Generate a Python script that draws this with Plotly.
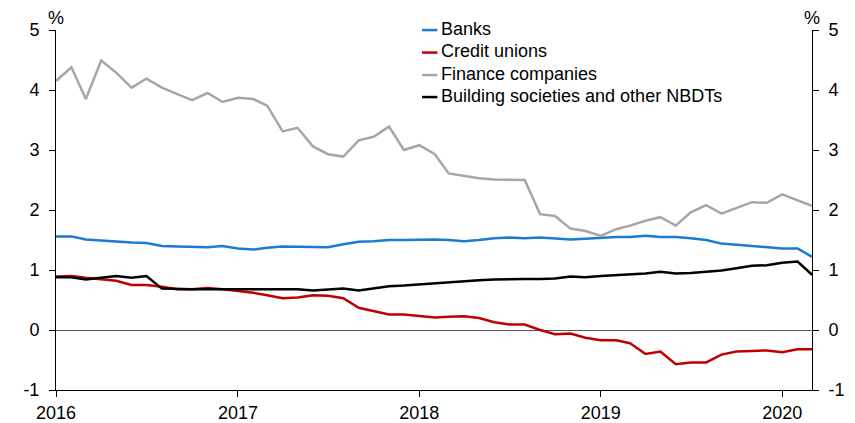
import plotly.graph_objects as go
import pandas as pd

months = pd.date_range("2016-01-01", "2020-03-01", freq="MS")

banks = [1.56, 1.56, 1.51, 1.49, 1.47, 1.46, 1.45, 1.40, 1.39, 1.39, 1.38, 1.40,
         1.36, 1.34, 1.37, 1.39, 1.39, 1.38, 1.38, 1.43, 1.47, 1.48, 1.50, 1.50,
         1.51, 1.51, 1.50, 1.48, 1.50, 1.53, 1.54, 1.53, 1.54, 1.53, 1.51, 1.52,
         1.54, 1.55, 1.55, 1.57, 1.55, 1.55, 1.53, 1.50, 1.44, 1.42, 1.41, 1.39,
         1.36, 1.36, 1.22]
credit_unions = [0.89, 0.90, 0.87, 0.85, 0.82, 0.75, 0.75, 0.72, 0.68, 0.68, 0.70, 0.68,
                 0.65, 0.62, 0.58, 0.53, 0.54, 0.58, 0.57, 0.53, 0.37, 0.32, 0.26, 0.26,
                 0.24, 0.21, 0.22, 0.23, 0.20, 0.13, 0.09, 0.09, 0.00, -0.07, -0.06, -0.13,
                 -0.17, -0.17, -0.22, -0.40, -0.36, -0.57, -0.54, -0.54, -0.41, -0.36, -0.35, -0.34,
                 -0.37, -0.32, -0.32]
finance_cos = [4.15, 4.38, 3.85, 4.49, 4.29, 4.04, 4.19, 4.04, 3.93, 3.83, 3.95, 3.80,
               3.87, 3.85, 3.74, 3.31, 3.37, 3.06, 2.93, 2.89, 3.16, 3.22, 3.39, 3.00,
               3.08, 2.93, 2.61, 2.57, 2.53, 2.51, 2.50, 2.50, 1.93, 1.90, 1.69, 1.65,
               1.57, 1.68, 1.74, 1.82, 1.88, 1.74, 1.96, 2.08, 1.94, 2.04, 2.13, 2.12,
               2.26, 2.16, 2.07]
building_socs = [0.88, 0.88, 0.84, 0.87, 0.90, 0.87, 0.90, 0.69, 0.68, 0.68, 0.68, 0.68,
                 0.69, 0.69, 0.68, 0.68, 0.68, 0.66, 0.67, 0.69, 0.66, 0.70, 0.73, 0.74,
                 0.76, 0.78, 0.79, 0.81, 0.83, 0.84, 0.85, 0.85, 0.85, 0.86, 0.89, 0.88,
                 0.90, 0.91, 0.92, 0.94, 0.97, 0.94, 0.95, 0.97, 0.99, 1.03, 1.07, 1.08,
                 1.12, 1.14, 0.92]

series_names = ["Banks", "Credit unions", "Finance companies",
                "Building societies and other NBDTs"]
series_values = [banks, credit_unions, finance_cos, building_socs]
series_colors = ["#1a7bd0", "#c00000", "#a6a6a6", "#000000"]

y_ticks = [-1, 0, 1, 2, 3, 4, 5]
y_tick_labels = ["-1", "0", "1", "2", "3", "4", "5"]
x_ticks = ["2016-01-01", "2017-01-01", "2018-01-01", "2019-01-01", "2020-01-01"]
x_tick_labels = ["2016", "2017", "2018", "2019", "2020"]

FONT = "Liberation Sans, Arial, sans-serif"

fig = go.Figure()
for name, vals, color in zip(series_names, series_values, series_colors):
    fig.add_trace(go.Scatter(x=months, y=vals, name=name, mode="lines",
                             line=dict(color=color, width=2.5), showlegend=False))
# invisible companion trace so the right-hand axis is drawn
fig.add_trace(go.Scatter(x=months, y=banks, yaxis="y2", mode="lines",
                         line=dict(width=0), opacity=0, showlegend=False,
                         hoverinfo="skip"))

axis_common = dict(range=[-1, 5], tickvals=y_ticks, ticktext=y_tick_labels,
                   ticks="outside", ticklen=6, tickcolor="#000", showline=True,
                   linecolor="#000", linewidth=1, showgrid=False, automargin=False,
                   tickfont=dict(size=18, color="#000", family=FONT))

# legend drawn as text + short line keys
legend_rows_y = [1.0028, 0.9403, 0.8778, 0.8167]
annotations = [
    dict(text="%", xref="paper", yref="paper", x=0.0, y=1.0, xanchor="center",
         yanchor="bottom", showarrow=False, font=dict(size=18, family=FONT)),
    dict(text="%", xref="paper", yref="paper", x=1.0, y=1.0, xanchor="center",
         yanchor="bottom", showarrow=False, font=dict(size=18, family=FONT)),
]
shapes = []
for name, color, ly in zip(series_names, series_colors, legend_rows_y):
    annotations.append(dict(text=name, xref="paper", yref="paper", x=0.5066, y=ly,
                            xanchor="left", yanchor="middle", showarrow=False,
                            font=dict(size=18, family=FONT, color="#000")))
    shapes.append(dict(type="line", xref="paper", yref="paper", x0=0.4841, x1=0.5045,
                       y0=ly - 0.003, y1=ly - 0.003, line=dict(color=color, width=2.5)))

fig.update_layout(
    width=855, height=423,
    margin=dict(l=56, r=43, t=30, b=33, autoexpand=False),
    paper_bgcolor="white", plot_bgcolor="white",
    font=dict(family=FONT, size=18, color="#000"),
    xaxis=dict(range=["2016-01-01", "2020-03-01"], tickvals=x_ticks, ticktext=x_tick_labels,
               ticks="outside", ticklen=6, tickcolor="#000", showline=True,
               linecolor="#000", linewidth=1, showgrid=False, zeroline=False,
               automargin=False, tickfont=dict(size=18, color="#000", family=FONT)),
    yaxis=dict(**axis_common, zeroline=True, zerolinecolor="#555", zerolinewidth=1,
               ticklabelstandoff=6),
    yaxis2=dict(**axis_common, overlaying="y", side="right", anchor="x", zeroline=False,
                ticklabelstandoff=6),
    showlegend=False,
    annotations=annotations,
    shapes=shapes,
)

fig.write_html("out.html", config={"displayModeBar": False},
               post_script="document.body.style.margin='0';document.body.style.overflow='hidden';")
